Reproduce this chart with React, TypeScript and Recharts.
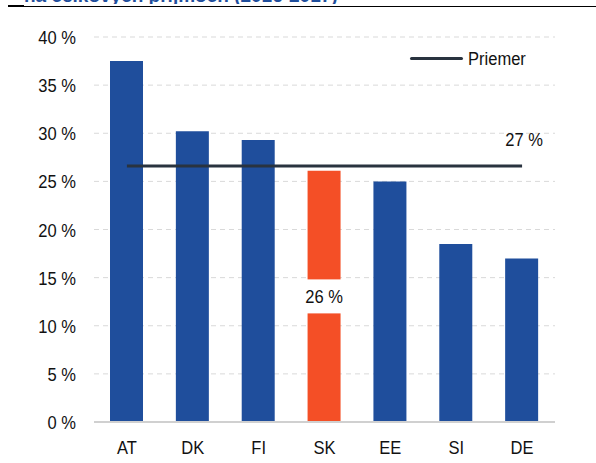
import React from 'react'
import { ComposedChart, Bar, Line, XAxis, YAxis, CartesianGrid, Cell, LabelList } from 'recharts'

const countries = ['AT', 'DK', 'FI', 'SK', 'EE', 'SI', 'DE']
const shares = [37.5, 30.2, 29.3, 26.1, 25.0, 18.5, 17.0]
const average = 26.6
const yTicks = [0, 5, 10, 15, 20, 25, 30, 35, 40]

const BLUE = '#1F4E9C'
const ORANGE = '#F44F26'
const DARK = '#29333F'
const FS = 19
const SQUEEZE = 0.87

const data = countries.map((c, i) => ({ country: c, share: shares[i], avg: average }))

// the source uses a slightly condensed font, so squeeze the text a bit
const Narrow = ({ x, y, anchor, children }: any) => (
  <text
    transform={`translate(${x},${y}) scale(${SQUEEZE},1)`}
    textAnchor={anchor}
    fontSize={FS}
    fill="#111"
  >
    {children}
  </text>
)

const XTick = (props: any) => {
  const { x, y, payload } = props
  return <Narrow x={x} y={y + 20} anchor="middle">{payload.value}</Narrow>
}

const YTick = (props: any) => {
  const { x, y, payload } = props
  return <Narrow x={x} y={y + 7} anchor="end">{payload.value} %</Narrow>
}

const SkLabel = (props: any) => {
  const { x, y, width, height, index } = props
  if (countries[index] !== 'SK') return null
  const cy = y + height / 2
  return (
    <g>
      <rect x={x - 1} y={cy - 17} width={width + 2} height={34} fill="#fff" />
      <Narrow x={x + width / 2} y={cy + 7} anchor="middle">
        {Math.round(shares[index])} %
      </Narrow>
    </g>
  )
}

const AvgLabel = (props: any) => {
  const { x, y, index } = props
  if (index !== countries.length - 1) return null
  return (
    <Narrow x={x + 2} y={y - 20} anchor="middle">
      {Math.round(average)} %
    </Narrow>
  )
}

export default function App() {
  return (
    <div style={{ position: 'absolute', left: 0, top: 0, width: 596, height: 463, background: '#fff', fontFamily: '"Liberation Sans", Arial, sans-serif' }}>
      <div style={{ position: 'absolute', left: 24, top: 0, height: 4, overflow: 'hidden', width: 560 }}>
        <div style={{ marginTop: -15, color: BLUE, fontWeight: 'bold', fontSize: 19, whiteSpace: 'nowrap' }}>
          na celkových príjmoch (2016-2017)
        </div>
      </div>
      <div style={{ position: 'absolute', left: 8, top: 6, width: 588, height: 1, background: '#000' }} />
      <div style={{ position: 'absolute', left: 8, top: 5, width: 16, height: 2, background: '#000' }} />
      <div style={{ position: 'absolute', left: 410, top: 57, width: 53, height: 3, background: DARK, borderRadius: 2 }} />
      <svg style={{ position: 'absolute', left: 0, top: 0, overflow: 'visible' }} width={596} height={463}>
        <Narrow x={468} y={65} anchor="start">Priemer</Narrow>
      </svg>
      <ComposedChart
        width={596}
        height={463}
        data={data}
        margin={{ top: 37, right: 41, left: 0, bottom: 11 }}
        style={{ position: 'absolute', left: 0, top: 0 }}
      >
        <CartesianGrid vertical={false} stroke="#d9d9d9" strokeDasharray="5 4" />
        <XAxis
          dataKey="country"
          tick={<XTick />}
          tickLine={false}
          axisLine={{ stroke: '#d0d0d0', strokeWidth: 2 }}
          tickMargin={6}
        />
        <YAxis
          domain={[0, 40]}
          ticks={yTicks}
          tick={<YTick />}
          tickLine={false}
          axisLine={false}
          width={94}
          tickMargin={12}
        />
        <Bar dataKey="share" barSize={33} isAnimationActive={false}>
          {data.map((d, i) => (
            <Cell key={i} fill={d.country === 'SK' ? ORANGE : BLUE} />
          ))}
          <LabelList dataKey="share" content={SkLabel} />
        </Bar>
        <Line
          dataKey="avg"
          stroke={DARK}
          strokeWidth={3}
          dot={false}
          isAnimationActive={false}
        >
          <LabelList dataKey="avg" content={AvgLabel} />
        </Line>
      </ComposedChart>
    </div>
  )
}
